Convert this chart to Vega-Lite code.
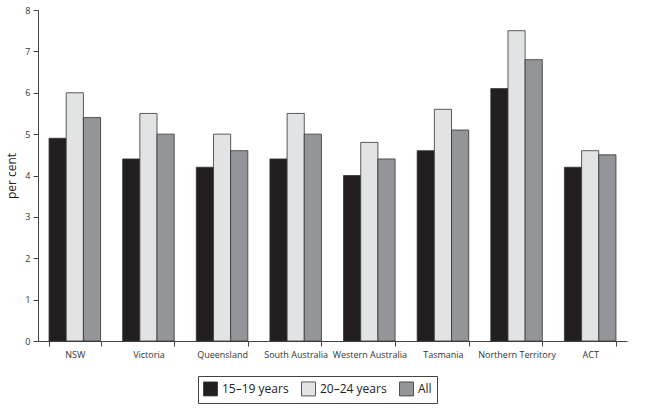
{
  "$schema": "https://vega.github.io/schema/vega-lite/v6.json",
  "width": 589,
  "height": 331,
  "autosize": "none",
  "padding": {"left": 38, "top": 10, "right": 23, "bottom": 68},
  "background": "white",
  "config": {
    "view": {"stroke": null},
    "font": "Open Sans",
    "axis": {"labelFont": "Open Sans", "titleFont": "Open Sans", "domainColor": "#444", "tickColor": "#444", "labelColor": "#333", "titleColor": "#222"}
  },
  "data": {
    "values": [
      {"state": "NSW", "group": "15–19 years", "value": 4.9},
      {"state": "NSW", "group": "20–24 years", "value": 6.0},
      {"state": "NSW", "group": "All", "value": 5.4},
      {"state": "Victoria", "group": "15–19 years", "value": 4.4},
      {"state": "Victoria", "group": "20–24 years", "value": 5.5},
      {"state": "Victoria", "group": "All", "value": 5.0},
      {"state": "Queensland", "group": "15–19 years", "value": 4.2},
      {"state": "Queensland", "group": "20–24 years", "value": 5.0},
      {"state": "Queensland", "group": "All", "value": 4.6},
      {"state": "South Australia", "group": "15–19 years", "value": 4.4},
      {"state": "South Australia", "group": "20–24 years", "value": 5.5},
      {"state": "South Australia", "group": "All", "value": 5.0},
      {"state": "Western Australia", "group": "15–19 years", "value": 4.0},
      {"state": "Western Australia", "group": "20–24 years", "value": 4.8},
      {"state": "Western Australia", "group": "All", "value": 4.4},
      {"state": "Tasmania", "group": "15–19 years", "value": 4.6},
      {"state": "Tasmania", "group": "20–24 years", "value": 5.6},
      {"state": "Tasmania", "group": "All", "value": 5.1},
      {"state": "Northern Territory", "group": "15–19 years", "value": 6.1},
      {"state": "Northern Territory", "group": "20–24 years", "value": 7.5},
      {"state": "Northern Territory", "group": "All", "value": 6.8},
      {"state": "ACT", "group": "15–19 years", "value": 4.2},
      {"state": "ACT", "group": "20–24 years", "value": 4.6},
      {"state": "ACT", "group": "All", "value": 4.5}
    ]
  },
  "mark": {"type": "bar", "stroke": "#333", "strokeWidth": 0.8},
  "encoding": {
    "x": {
      "field": "state", "type": "nominal", "sort": null,
      "scale": {"paddingInner": 0.3, "paddingOuter": 0.15},
      "axis": {"title": null, "labelAngle": 0, "labelFontSize": 9, "tickBand": "extent", "tickSize": 5, "labelPadding": 4, "domainWidth": 1}
    },
    "xOffset": {"field": "group", "type": "nominal", "sort": ["15–19 years", "20–24 years", "All"]},
    "y": {
      "field": "value", "type": "quantitative",
      "scale": {"domain": [0, 8]},
      "axis": {"title": "per cent", "titleFontSize": 12, "titleFontWeight": "normal", "labelFontSize": 9, "tickCount": 8, "grid": false, "tickSize": 5, "titlePadding": 6, "labelPadding": 3}
    },
    "fill": {
      "field": "group", "type": "nominal",
      "scale": {"domain": ["15–19 years", "20–24 years", "All"], "range": ["#231f20", "#e2e3e4", "#939598"]},
      "legend": {
        "title": null, "orient": "none", "legendX": 160, "legendY": 366,
        "direction": "horizontal", "columns": 3,
        "symbolType": "square", "symbolSize": 196, "symbolStrokeColor": "#333", "symbolStrokeWidth": 0.8,
        "labelFontSize": 12, "labelColor": "#222", "labelFont": "Open Sans",
        "strokeColor": "#444", "padding": 5, "columnPadding": 10
      }
    }
  }
}
